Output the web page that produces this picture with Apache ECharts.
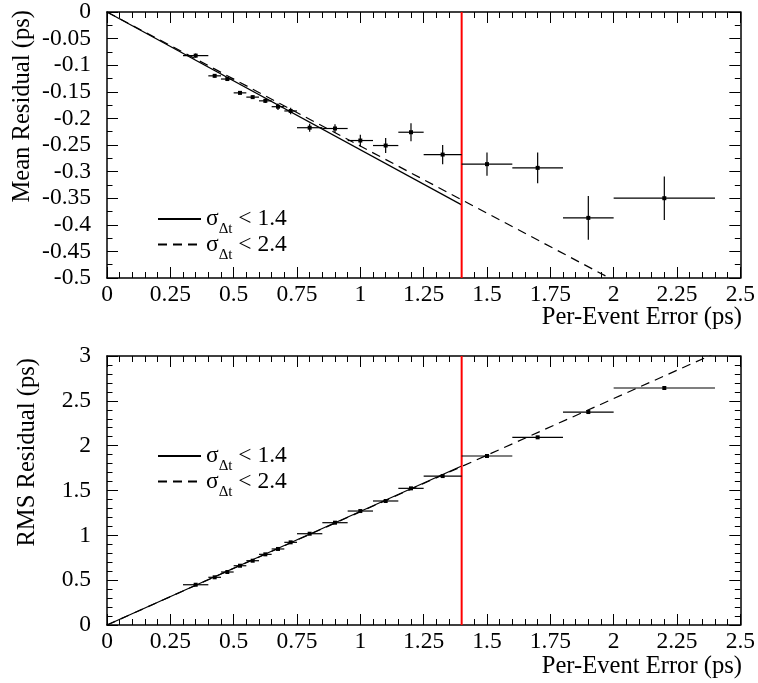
<!DOCTYPE html>
<html>
<head>
<meta charset="utf-8">
<script src="https://cdn.jsdelivr.net/npm/echarts@6/dist/echarts.min.js"></script>
<style>
html,body{margin:0;padding:0;background:#fff;}
#chart{width:758px;height:683px;}
</style>
</head>
<body>
<div id="chart"></div>
<script>
// ---- data ----
var binLo     = [0.30,0.40,0.45,0.50,0.55,0.60,0.65,0.70,0.75,0.85,0.95,1.05,1.15,1.25,1.40,1.60,1.80,2.00];
var binHi     = [0.40,0.45,0.50,0.55,0.60,0.65,0.70,0.75,0.85,0.95,1.05,1.15,1.25,1.40,1.60,1.80,2.00,2.40];
var binCenter = [0.35,0.425,0.475,0.525,0.575,0.625,0.675,0.725,0.80,0.90,1.00,1.10,1.20,1.325,1.50,1.70,1.90,2.20];

var meanResidual = [-0.082,-0.120,-0.126,-0.152,-0.160,-0.167,-0.178,-0.186,-0.2175,-0.219,-0.2416,-0.251,-0.226,-0.268,-0.286,-0.293,-0.387,-0.350];
var meanError    = [0.004,0.003,0.003,0.003,0.003,0.004,0.006,0.006,0.0075,0.008,0.011,0.014,0.017,0.018,0.022,0.029,0.041,0.041];

var rmsResidual = [0.449,0.532,0.591,0.661,0.717,0.788,0.848,0.922,1.018,1.141,1.271,1.383,1.524,1.661,1.885,2.093,2.375,2.643];
var rmsError    = [0.006,0.005,0.005,0.005,0.005,0.005,0.006,0.006,0.007,0.007,0.008,0.009,0.010,0.010,0.012,0.014,0.018,0.020];

// fitted lines (endpoints)
var meanFit14 = [[0,0],[1.4,-0.3625]];
var meanFit24 = [[0,0],[2.4,-0.605]];
var rmsFit14  = [[0,0],[1.4,1.773]];
var rmsFit24  = [[0,0],[2.4,3.03]];

var cutValue = 1.4;
var xRange = [0, 2.5], xInterval = 0.25;
var meanRange = [-0.5, 0], meanInterval = 0.05;
var rmsRange = [0, 3], rmsInterval = 0.5;

var legendNames = {s14: '1.4', s24: '2.4'};
var xTitle = 'Per-Event Error (ps)';
var meanTitle = 'Mean Residual (ps)';
var rmsTitle = 'RMS Residual (ps)';

// ---- build ----
var FONT = 'Liberation Serif';
var FS = 23.5;
var TFS = 24.6;

function errData(yv, ye) {
  return binCenter.map(function (x, i) {
    return [x, yv[i], binLo[i], binHi[i], yv[i] - ye[i], yv[i] + ye[i]];
  });
}
function errRender(params, api) {
  var x = api.value(0), y = api.value(1);
  var c = api.coord([x, y]);
  var pl = api.coord([api.value(2), y]), ph = api.coord([api.value(3), y]);
  var pb = api.coord([x, api.value(4)]), pt = api.coord([x, api.value(5)]);
  return {
    type: 'group',
    children: [
      {type: 'line', shape: {x1: pl[0], y1: c[1], x2: ph[0], y2: c[1]}, style: {stroke: '#000', lineWidth: 1.2}},
      {type: 'line', shape: {x1: c[0], y1: pb[1], x2: c[0], y2: pt[1]}, style: {stroke: '#000', lineWidth: 1.2}},
      {type: 'rect', shape: {x: c[0] - 2, y: c[1] - 2, width: 4, height: 4}, style: {fill: '#000'}}
    ]
  };
}

function xAx(grid, pos, labels) {
  return {
    type: 'value', gridIndex: grid, position: pos, min: xRange[0], max: xRange[1], interval: xInterval,
    axisLine: {show: true, onZero: false, lineStyle: {color: '#000', width: 1.5}},
    axisTick: {show: true, inside: true, length: 11, lineStyle: {color: '#000', width: 1}},
    minorTick: {show: true, splitNumber: 5, length: 6, lineStyle: {color: '#000', width: 1}},
    axisLabel: {show: labels, margin: 5, color: '#000', fontFamily: FONT, fontSize: FS, showMinLabel: true, showMaxLabel: true},
    splitLine: {show: false}, minorSplitLine: {show: false}
  };
}
function yAx(grid, pos, labels, range, interval, minorSplit) {
  return {
    type: 'value', gridIndex: grid, position: pos, min: range[0], max: range[1], interval: interval,
    axisLine: {show: true, onZero: false, lineStyle: {color: '#000', width: 1.5}},
    axisTick: {show: true, inside: true, length: 11, lineStyle: {color: '#000', width: 1}},
    minorTick: {show: true, splitNumber: minorSplit, length: 5.5, lineStyle: {color: '#000', width: 1}},
    axisLabel: {show: labels, margin: 16, color: '#000', fontFamily: FONT, fontSize: FS, showMinLabel: true, showMaxLabel: true},
    splitLine: {show: false}, minorSplitLine: {show: false}
  };
}

function legend(top) {
  return {
    data: ['s14', 's24'], left: 157, top: top, orient: 'vertical', padding: 0,
    itemWidth: 43, itemHeight: 14, itemGap: -10.6, selectedMode: false,
    itemStyle: {opacity: 0},
    formatter: function (n) { return '{s|σ}{d|Δt}{s| < ' + legendNames[n] + '}'; },
    textStyle: {
      color: '#000', fontFamily: FONT, fontSize: FS,
      rich: {
        s: {fontFamily: FONT, fontSize: FS, lineHeight: 24, color: '#000'},
        d: {fontFamily: FONT, fontSize: 15, lineHeight: 24, padding: [21, 0, 0, 0], color: '#000'}
      }
    }
  };
}

function lineSeries(name, xi, yi, data, type) {
  return {
    name: name, type: 'line', xAxisIndex: xi, yAxisIndex: yi, data: data, symbol: 'none',
    clip: true, silent: true, animation: false,
    lineStyle: {color: '#000', width: 1.2, type: type}, itemStyle: {color: '#000'}
  };
}
function cutSeries(xi, yi, range) {
  return {
    type: 'line', xAxisIndex: xi, yAxisIndex: yi, data: [[cutValue, range[0]], [cutValue, range[1]]],
    symbol: 'none', silent: true, animation: false, z: 5,
    lineStyle: {color: '#ff0000', width: 2}
  };
}

var option = {
  animation: false,
  backgroundColor: '#fff',
  grid: [
    {left: 107, right: 16, top: 9, height: 269},
    {left: 107, right: 16, top: 356, height: 269}
  ],
  xAxis: [xAx(0, 'bottom', true), xAx(0, 'top', false), xAx(1, 'bottom', true), xAx(1, 'top', false)],
  yAxis: [
    yAx(0, 'left', true, meanRange, meanInterval, 2), yAx(0, 'right', false, meanRange, meanInterval, 2),
    yAx(1, 'left', true, rmsRange, rmsInterval, 5), yAx(1, 'right', false, rmsRange, rmsInterval, 5)
  ],
  legend: [legend(201), legend(438)],
  series: [
    lineSeries('s14', 0, 0, meanFit14, 'solid'),
    lineSeries('s24', 0, 0, meanFit24, [9, 6]),
    cutSeries(0, 0, meanRange),
    {type: 'custom', xAxisIndex: 0, yAxisIndex: 0, renderItem: errRender, data: errData(meanResidual, meanError), z: 6, silent: true},
    lineSeries('s14', 2, 2, rmsFit14, 'solid'),
    lineSeries('s24', 2, 2, rmsFit24, [9, 6]),
    cutSeries(2, 2, rmsRange),
    {type: 'custom', xAxisIndex: 2, yAxisIndex: 2, renderItem: errRender, data: errData(rmsResidual, rmsError), z: 6, silent: true}
  ],
  graphic: [
    {type: 'text', x: 742, y: 318, style: {text: xTitle, fontFamily: FONT, fontSize: TFS, fill: '#000', align: 'right', verticalAlign: 'middle'}},
    {type: 'text', x: 742, y: 667, style: {text: xTitle, fontFamily: FONT, fontSize: TFS, fill: '#000', align: 'right', verticalAlign: 'middle'}},
    {type: 'text', x: 23, y: 10, rotation: Math.PI / 2, style: {text: meanTitle, fontFamily: FONT, fontSize: TFS, fill: '#000', align: 'right', verticalAlign: 'middle'}},
    {type: 'text', x: 28, y: 358, rotation: Math.PI / 2, style: {text: rmsTitle, fontFamily: FONT, fontSize: TFS, fill: '#000', align: 'right', verticalAlign: 'middle'}}
  ]
};

var chart = echarts.init(document.getElementById('chart'), null, {renderer: 'canvas'});
chart.setOption(option);
</script>
</body>
</html>
